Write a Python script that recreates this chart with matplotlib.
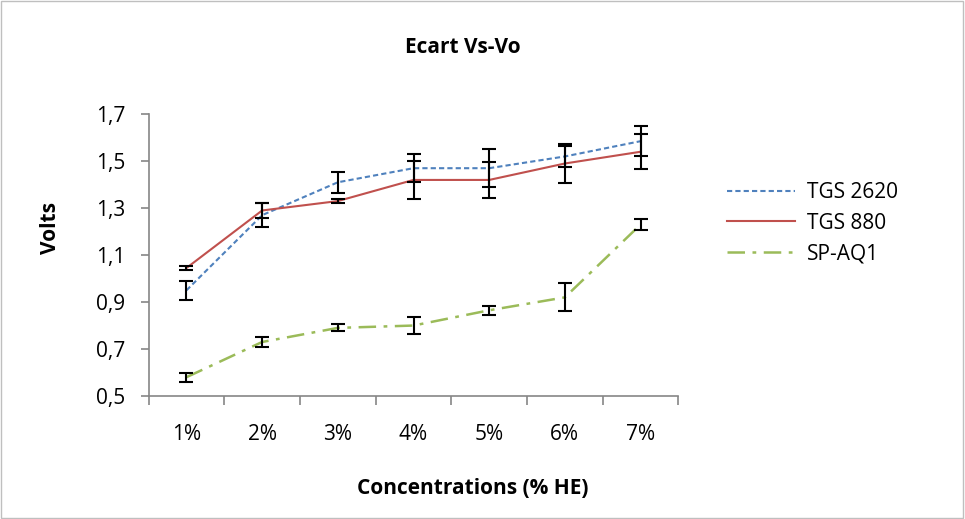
import matplotlib.pyplot as plt
from matplotlib.patches import Rectangle

categories = ['1%', '2%', '3%', '4%', '5%', '6%', '7%']
tgs2620 = [0.95, 1.27, 1.41, 1.47, 1.47, 1.52, 1.585]
tgs2620_err = [0.04, 0.05, 0.045, 0.06, 0.08, 0.045, 0.065]
tgs880 = [1.045, 1.29, 1.33, 1.42, 1.42, 1.49, 1.54]
tgs880_err = [0.01, 0.03, 0.01, 0.08, 0.075, 0.085, 0.075]
spaq1 = [0.58, 0.73, 0.79, 0.80, 0.865, 0.92, 1.23]
spaq1_err = [0.02, 0.02, 0.015, 0.035, 0.02, 0.06, 0.025]
yticks = [0.5, 0.7, 0.9, 1.1, 1.3, 1.5, 1.7]

plt.rcParams['font.family'] = ['Open Sans', 'DejaVu Sans']
fs = 15

fig = plt.figure(figsize=(9.65, 5.19), dpi=100)
ax = fig.add_axes([0.154, 0.237, 0.549, 0.543])

x = list(range(len(categories)))
ax.plot(x, tgs2620, color='#4f81bd', lw=1.5, ls=(0, (2.5, 1.5)), label='TGS 2620')
ax.plot(x, tgs880, color='#c0504d', lw=1.5, ls='-', label='TGS 880')
ax.plot(x, spaq1, color='#9bbb59', lw=1.8, ls=(0, (7, 3, 1.5, 3)), label='SP-AQ1')
for vals, errs in [(tgs2620, tgs2620_err), (tgs880, tgs880_err), (spaq1, spaq1_err)]:
    ax.errorbar(x, vals, yerr=errs, fmt='none', ecolor='black', elinewidth=1.5,
                capsize=5, capthick=1.5, zorder=3)

ax.set_xlim(-0.5, len(categories) - 0.5)
ax.set_ylim(0.5, 1.7)
ax.set_xticks([i - 0.5 for i in range(len(categories) + 1)])
ax.set_xticklabels([])
ax.set_xticks(x, minor=True)
ax.set_xticklabels(categories, minor=True, fontsize=fs)
ax.tick_params(axis='x', which='minor', length=0, pad=20)
ax.tick_params(axis='x', which='major', length=6.5, color='#868686', width=1.2)
ax.set_yticks(yticks)
ax.set_yticklabels([('%.1f' % v).replace('.', ',') for v in yticks], fontsize=fs)
ax.tick_params(axis='y', length=6, color='#868686', width=1.2, pad=11)

for s in ['top', 'right']:
    ax.spines[s].set_visible(False)
for s in ['left', 'bottom']:
    ax.spines[s].set_color('#868686')
    ax.spines[s].set_linewidth(1.2)

ax.set_xlabel('Concentrations (% HE)', fontsize=fs, fontweight='bold', labelpad=24,
              x=0.611, ha='center')
ax.set_ylabel('Volts', fontsize=fs, fontweight='bold', labelpad=25, y=0.596, ha='center')
fig.text(0.48, 0.909, 'Ecart Vs-Vo', fontsize=fs, fontweight='bold', ha='center', va='center')

ax.legend(loc='center left', bbox_to_anchor=(1.091, 0.613), frameon=False, fontsize=fs,
          handlelength=3.3, handletextpad=0.55, labelspacing=0.45,
          borderpad=0, borderaxespad=0)

fig.patches.append(Rectangle((0.001, 0.001), 0.997, 0.997, transform=fig.transFigure,
                             fill=False, edgecolor='#bfbfbf', lw=1))

fig.savefig('out.png', dpi=100)
